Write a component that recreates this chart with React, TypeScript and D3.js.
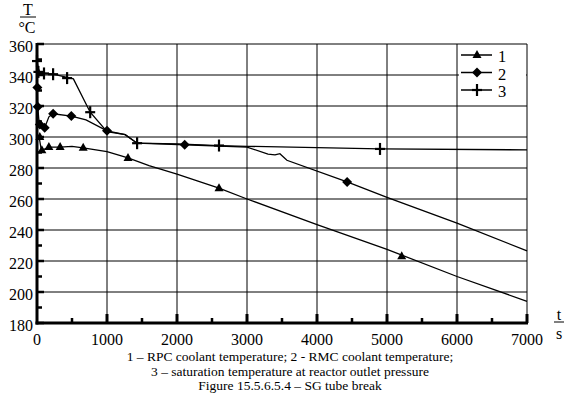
import React from "react";
import * as d3 from "d3";

// time (s), temperature (°C)
const rpcLine: [number, number][] = [
  [0, 301], [30, 300], [60, 292], [100, 292], [170, 293.5], [330, 293.5], [500, 294],
  [660, 293], [1000, 290.5], [1300, 286.5], [1600, 281.5], [2000, 276], [2300, 271.5],
  [2600, 267], [3000, 260], [4000, 243.5], [5000, 227.5], [6000, 210], [7000, 194],
];
const rpcMarks: [number, number][] = [
  [40, 300], [70, 291.5], [170, 293.5], [330, 293.5], [660, 293], [1300, 286.5], [2600, 267], [5210, 223],
];

const rmcLine: [number, number][] = [
  [0, 300], [5, 333], [10, 320], [30, 309], [60, 306], [110, 306], [170, 313], [230, 315],
  [490, 313.5], [700, 311], [1000, 304], [1260, 301.5], [1430, 296], [2110, 295], [3000, 293.5],
  [3300, 289], [3400, 288.5], [3470, 289.2], [3570, 285], [4430, 271], [5000, 261], [6000, 244.5],
  [7000, 226.5],
];
const rmcMarks: [number, number][] = [
  [5, 332], [10, 319.5], [40, 308], [110, 306], [230, 315], [490, 313.5], [1000, 304], [2110, 295], [4430, 271],
];

const satLine: [number, number][] = [
  [0, 349], [20, 344], [50, 341], [100, 341], [230, 340.5], [430, 338.5], [520, 337.5],
  [760, 316], [1000, 303.5], [1260, 301.5], [1430, 296], [2000, 295.5], [2600, 294.5],
  [3000, 294], [4900, 292.3], [7000, 291.7],
];
const satMarks: [number, number][] = [
  [0, 349], [20, 342], [100, 341], [230, 340.5], [430, 338], [760, 316], [1430, 296], [2600, 294.5], [4900, 292.3],
];

const xTicks = [0, 1000, 2000, 3000, 4000, 5000, 6000, 7000];
const yTicks = [180, 200, 220, 240, 260, 280, 300, 320, 340, 360];
const legendLabels = ["1", "2", "3"];
const captions = [
  "1 – RPC coolant temperature; 2 - RMC coolant temperature;",
  "3 – saturation temperature at reactor outlet pressure",
  "Figure 15.5.6.5.4 – SG tube break",
];

const W = 571;
const H = 397;
const m = { left: 37, right: 44, top: 44, bottom: 74 };
const serif = { fontFamily: '"Liberation Serif", "DejaVu Serif", serif' };

const Marker = ({ type, x, y }: { type: string; x: number; y: number }) => {
  if (type === "tri")
    return <path d={`M${x},${y - 5} L${x + 4.5},${y + 3} L${x - 4.5},${y + 3} Z`} fill="#000" />;
  if (type === "dia")
    return <path d={`M${x},${y - 5} L${x + 5},${y} L${x},${y + 5} L${x - 5},${y} Z`} fill="#000" />;
  return (
    <g stroke="#000" strokeWidth={2.2}>
      <line x1={x - 5} x2={x + 5} y1={y} y2={y} />
      <line x1={x} x2={x} y1={y - 6} y2={y + 6} />
    </g>
  );
};

export default function App() {
  const x = d3.scaleLinear().domain([0, 7000]).range([m.left, W - m.right]);
  const y = d3.scaleLinear().domain([180, 360]).range([H - m.bottom, m.top]);
  const line = d3.line<[number, number]>().x((d) => x(d[0])).y((d) => y(d[1]));

  const series = [
    { line: rpcLine, marks: rpcMarks, type: "tri" },
    { line: rmcLine, marks: rmcMarks, type: "dia" },
    { line: satLine, marks: satMarks, type: "plus" },
  ];

  const x0 = x(0), x1 = x(7000), yb = y(180), yt = y(360);
  const minorX = d3.range(500, 7000, 1000);
  const minorY = d3.range(190, 360, 20);

  return (
    <svg width={W} height={H} style={{ position: "absolute", left: 0, top: 0, background: "#fff" }}>
      {/* grid */}
      <g stroke="#000" strokeWidth={1}>
        {xTicks.slice(1).map((t) => (
          <line key={t} x1={x(t)} x2={x(t)} y1={yt} y2={yb} />
        ))}
        {yTicks.slice(1).map((t) => (
          <line key={t} x1={x0} x2={x1} y1={y(t)} y2={y(t)} />
        ))}
      </g>
      {/* legend background */}
      <rect x={459} y={yt + 2} width={x1 - 460} height={56} fill="#fff" />
      {/* series */}
      {series.map((s, i) => (
        <g key={i}>
          <path d={line(s.line) || ""} fill="none" stroke="#000" strokeWidth={1.3} />
          {s.marks.map((p, j) => (
            <Marker key={j} type={s.type} x={x(p[0])} y={y(p[1])} />
          ))}
        </g>
      ))}
      {/* axes */}
      <g stroke="#000">
        <line x1={x0} x2={x0} y1={yt - 1} y2={yb + 1.5} strokeWidth={3} />
        <line x1={x0 - 1.5} x2={x1 + 1} y1={yb} y2={yb} strokeWidth={3} />
        {xTicks.slice(1).map((t) => (
          <line key={t} x1={x(t)} x2={x(t)} y1={yb} y2={yb - 9} strokeWidth={3} />
        ))}
        {minorX.map((t) => (
          <line key={t} x1={x(t)} x2={x(t)} y1={yb} y2={yb - 5} strokeWidth={2.5} />
        ))}
        {minorY.map((t) => (
          <line key={t} x1={x0} x2={x0 + 5} y1={y(t)} y2={y(t)} strokeWidth={2.5} />
        ))}
        {yTicks.map((t) => (
          <line key={t} x1={x0} x2={x0 + 7} y1={y(t)} y2={y(t)} strokeWidth={2.5} />
        ))}
      </g>
      {/* tick labels */}
      <g style={{ ...serif, fontSize: 16 }} fill="#000">
        {yTicks.map((t) => (
          <text key={t} x={x0 - 4} y={y(t) + 8} textAnchor="end">{t}</text>
        ))}
        {xTicks.map((t) => (
          <text key={t} x={x(t)} y={yb + 22} textAnchor="middle">{t}</text>
        ))}
        <text x={28} y={15} textAnchor="middle">T</text>
        <line x1={20} x2={36} y1={17} y2={17} stroke="#000" strokeWidth={1} />
        <text x={27} y={33} textAnchor="middle">°C</text>
        <text x={559} y={320} textAnchor="middle">t</text>
        <line x1={554} x2={564} y1={322} y2={322} stroke="#000" strokeWidth={1} />
        <text x={559} y={339} textAnchor="middle">s</text>
      </g>
      {/* legend */}
      {series.map((s, i) => {
        const ly = 55 + i * 17.5;
        return (
          <g key={i}>
            <line x1={461} x2={492} y1={ly} y2={ly} stroke="#000" strokeWidth={1.5} />
            <Marker type={s.type} x={477} y={ly} />
            <text x={498} y={ly + 7} style={{ ...serif, fontSize: 16.5 }}>{legendLabels[i]}</text>
          </g>
        );
      })}
      {/* caption */}
      <g style={{ ...serif, fontSize: 13.5 }} textAnchor="middle">
        {captions.map((c, i) => (
          <text key={i} x={290} y={361 + i * 14.5}>{c}</text>
        ))}
      </g>
    </svg>
  );
}
